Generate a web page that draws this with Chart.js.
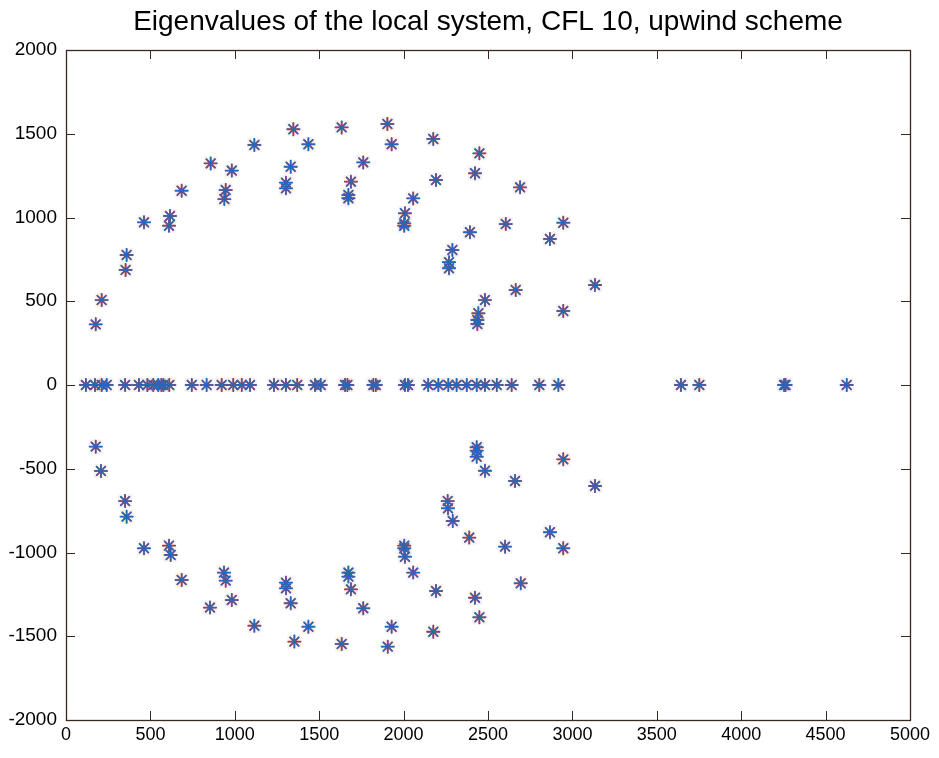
<!DOCTYPE html>
<html>
<head>
<meta charset="utf-8">
<script src="https://cdn.jsdelivr.net/npm/chart.js@4"></script>
<style>
  html, body { margin: 0; padding: 0; background: #fff; }
  #wrap { width: 939px; height: 758px; }
</style>
</head>
<body>
<div id="wrap"><canvas id="eigChart" width="939" height="758"></canvas></div>
<script>
const upperRe = [176, 211, 353, 359, 462, 610, 616, 685, 857, 938, 946, 982, 1116, 1303, 1303, 1331, 1347, 1436, 1633, 1673, 1673, 1688, 1761, 1904, 1929, 2004, 2004, 2008, 2057, 2176, 2192, 2269, 2269, 2289, 2393, 2423, 2449, 2437, 2437, 2443, 2482, 2605, 2664, 2690, 2867, 2946, 2946, 3134];
const upperIm = [362, 507, 687, 776, 971, 951, 1009, 1160, 1323, 1110, 1164, 1280, 1433, 1174, 1208, 1303, 1527, 1437, 1538, 1115, 1134, 1214, 1329, 1558, 1437, 951, 965, 1025, 1114, 1469, 1224, 697, 733, 806, 912, 1264, 1383, 364, 388, 428, 507, 961, 567, 1180, 872, 969, 442, 597];

const lowerRe = [176, 207, 350, 359, 462, 610, 620, 685, 853, 936, 946, 982, 1116, 1303, 1303, 1331, 1353, 1436, 1633, 1673, 1673, 1688, 1929, 1906, 1761, 2176, 2192, 2423, 2449, 2004, 2004, 2008, 2057, 2261, 2263, 2291, 2389, 2601, 2694, 2433, 2433, 2433, 2482, 2660, 2946, 3134, 2867, 2946];
const lowerIm = [-368, -513, -693, -786, -975, -959, -1015, -1164, -1329, -1120, -1168, -1284, -1437, -1180, -1214, -1303, -1532, -1443, -1546, -1120, -1144, -1220, -1443, -1562, -1333, -1473, -1230, -1270, -1387, -959, -975, -1025, -1120, -693, -736, -812, -911, -965, -1184, -372, -392, -428, -512, -573, -444, -603, -879, -975];

// purely real eigenvalues
const axisRe = [118, 172, 211, 241, 350, 432, 482, 517, 547, 565, 577, 612, 745, 833, 922, 991, 1041, 1090, 1232, 1303, 1370, 1475, 1509, 1653, 1667, 1821, 1835, 2008, 2026, 2146, 2206, 2265, 2314, 2374, 2433, 2482, 2552, 2640, 2804, 2917, 3643, 3752, 4254, 4263, 4625];

const xTicks = [0, 500, 1000, 1500, 2000, 2500, 3000, 3500, 4000, 4500, 5000];
const yTicks = [-2000, -1500, -1000, -500, 0, 500, 1000, 1500, 2000];

const titleText = "Eigenvalues of the local system, CFL 10, upwind scheme";

function buildPoints() {
  const pts = [];
  upperRe.forEach((x, i) => pts.push({ x: x, y: upperIm[i] }));
  lowerRe.forEach((x, i) => pts.push({ x: x, y: lowerIm[i] }));
  axisRe.forEach(x => pts.push({ x: x, y: 0 }));
  return pts;
}

// box + inward tick marks like the original figure
const boxPlugin = {
  id: "boxTicks",
  beforeDatasetsDraw(chart) {
    const ctx = chart.ctx;
    const a = chart.chartArea;
    const xs = chart.scales.x, ys = chart.scales.y;
    const len = 9;
    ctx.save();
    ctx.strokeStyle = "#3a2820";
    ctx.lineWidth = 1;
    ctx.beginPath();
    xTicks.forEach(v => {
      const px = Math.round(xs.getPixelForValue(v)) + 0.5;
      ctx.moveTo(px, a.bottom); ctx.lineTo(px, a.bottom - len);
      ctx.moveTo(px, a.top); ctx.lineTo(px, a.top + len);
    });
    yTicks.forEach(v => {
      const py = Math.round(ys.getPixelForValue(v)) + 0.5;
      ctx.moveTo(a.left, py); ctx.lineTo(a.left + len, py);
      ctx.moveTo(a.right, py); ctx.lineTo(a.right - len, py);
    });
    ctx.stroke();
    ctx.lineWidth = 1.3;
    ctx.strokeRect(a.left + 0.5, a.top + 0.5, a.right - a.left, a.bottom - a.top);
    ctx.restore();
  }
};

function initChart() {
  const pts = buildPoints();
  new Chart(document.getElementById("eigChart"), {
    type: "scatter",
    data: {
      // first dataset is painted last (on top)
      datasets: [
        {
          data: pts,
          pointStyle: "star",
          pointRadius: 7,
          borderColor: "#2a66b8",
          borderWidth: 1.4,
          backgroundColor: "#2a66b8"
        },
        {
          data: pts,
          pointStyle: "star",
          pointRadius: 6.5,
          borderColor: "#d9342e",
          borderWidth: 1.8,
          backgroundColor: "#d9342e"
        },
        {
          // faint halo behind each marker
          data: pts,
          pointStyle: "rect",
          pointRadius: 10,
          backgroundColor: "rgba(240,234,230,0.5)",
          borderWidth: 0
        }
      ]
    },
    options: {
      responsive: false,
      animation: false,
      events: [],
      layout: { padding: { left: 0, right: 29, top: 0, bottom: 0 } },
      plugins: {
        legend: { display: false },
        tooltip: { enabled: false },
        title: {
          display: true,
          fullSize: false,
          text: titleText,
          color: "#000",
          font: { family: "Liberation Sans, Arial, sans-serif", size: 28, weight: "normal", lineHeight: 1.2 },
          padding: { top: 5, bottom: 11.4 }
        }
      },
      scales: {
        x: {
          type: "linear",
          min: 0, max: 5000,
          afterBuildTicks: s => { s.ticks = xTicks.map(v => ({ value: v })); },
          afterFit: s => { s.height = 38; },
          grid: { display: false, drawTicks: false, tickLength: 0 },
          border: { display: false },
          ticks: {
            color: "#000",
            padding: 4,
            maxRotation: 0,
            font: { family: "Liberation Sans, Arial, sans-serif", size: 18 },
            callback: v => String(v)
          }
        },
        y: {
          type: "linear",
          min: -2000, max: 2000,
          afterBuildTicks: s => { s.ticks = yTicks.map(v => ({ value: v })); },
          afterFit: s => { s.width = 66; },
          grid: { display: false, drawTicks: false, tickLength: 0 },
          border: { display: false },
          ticks: {
            color: "#000",
            padding: 9,
            font: { family: "Liberation Sans, Arial, sans-serif", size: 19 },
            callback: v => String(v)
          }
        }
      }
    },
    plugins: [boxPlugin]
  });
}

document.addEventListener("DOMContentLoaded", initChart);
</script>
</body>
</html>
